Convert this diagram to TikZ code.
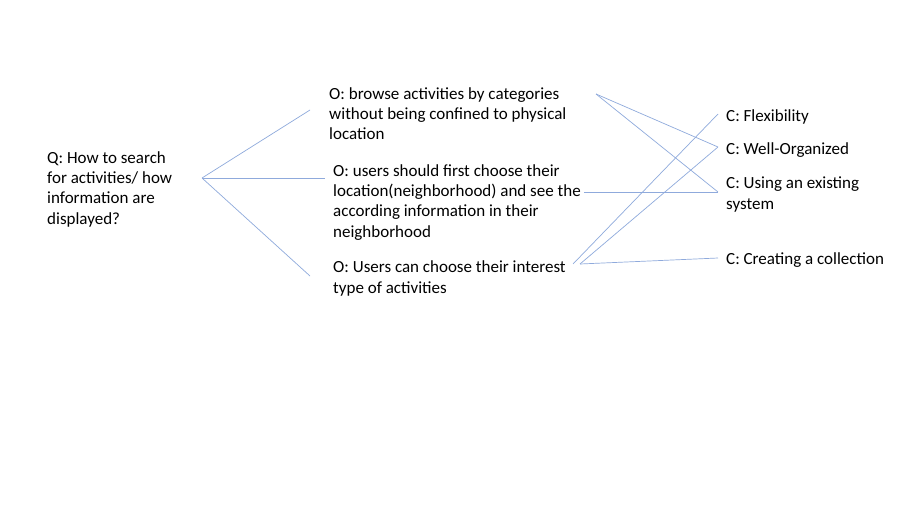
\documentclass[tikz,border=0pt]{standalone}
\usepackage{fontspec}
\setmainfont{Carlito}
\definecolor{linkblue}{RGB}{143,170,220}
\begin{document}
\begin{tikzpicture}[x=1pt,y=-1pt,
  txt/.style={anchor=base west,align=left,inner sep=0pt,font=\fontsize{17}{20.3}\selectfont},
  link/.style={draw=linkblue,line width=0.7pt}]
\useasboundingbox[fill=white] (0,0) rectangle (900,506);
% texts (positioned by the baseline of their last line)
\node[txt] (q) at (47,224) {Q: How to search\\for activities/ how\\information are\\displayed?};
\node[txt] (o1) at (329,139.6) {O: browse activities by categories\\without being confined to physical\\location};
\node[txt] (o2) at (333,237) {O: users should first choose their\\location(neighborhood) and see the\\according information in their\\neighborhood};
\node[txt] (o3) at (333,293) {O: Users can choose their interest\\type of activities};
\node[txt] (c1) at (726,121) {C: Flexibility};
\node[txt] (c2) at (726,154) {C: Well-Organized};
\node[txt] (c3) at (726,209) {C: Using an existing\\system};
\node[txt] (c4) at (726,264) {C: Creating a collection};
% endpoints
\coordinate (qr) at (202,178);
\coordinate (o1l) at (310,110);
\coordinate (o2l) at (325,178);
\coordinate (o3l) at (310,276);
\coordinate (o1r) at (596,94);
\coordinate (o2r) at (584,192);
\coordinate (o3ra) at (573,264);
\coordinate (o3rb) at (580,264);
\coordinate (c1l) at (718,114);
\coordinate (c2l) at (718,147);
\coordinate (c3l) at (718,192);
\coordinate (c4l) at (718,258);
% connectors
\draw[link] (qr) -- (o1l);
\draw[link] (qr) -- (o2l);
\draw[link] (qr) -- (o3l);
\draw[link] (o1r) -- (c2l);
\draw[link] (o1r) -- (c3l);
\draw[link] (o2r) -- (c3l);
\draw[link] (o3ra) -- (c1l);
\draw[link] (o3rb) -- (c2l);
\draw[link] (o3rb) -- (c4l);
\end{tikzpicture}
\end{document}
